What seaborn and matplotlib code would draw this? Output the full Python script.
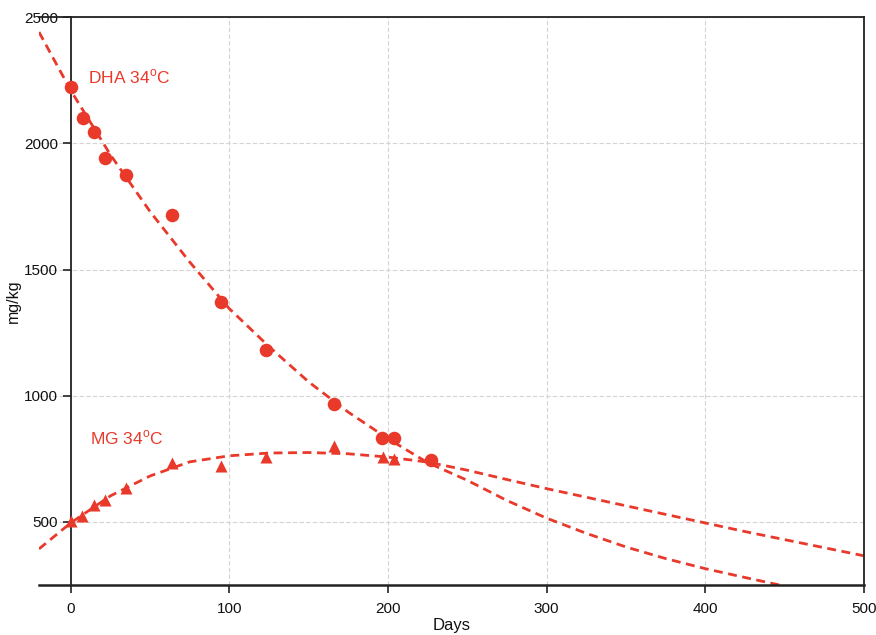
import matplotlib
matplotlib.use("Agg")
import matplotlib.pyplot as plt
import seaborn as sns
import pandas as pd

# --- measured points ---
dha_days = [0, 7.6, 14.5, 21.5, 35, 64, 95, 123, 166, 196, 204, 227]
dha_vals = [2225, 2100, 2045, 1940, 1875, 1715, 1370, 1180, 967, 832, 832, 745]

mg_days = [0, 7, 14.5, 21.5, 35, 64, 95, 123, 166, 197, 204]
mg_vals = [505, 522, 567, 587, 635, 734, 722, 758, 801, 758, 750]

# --- fitted curves ---
dha_fit_days = [-20, 0, 25, 50, 75, 100, 125, 150, 175, 200, 225, 250, 275,
                300, 325, 350, 375, 400, 425, 447]
dha_fit_vals = [2441, 2210, 1955, 1730, 1530, 1345, 1195, 1055, 935, 830, 735,
                665, 585, 515, 455, 401, 355, 315, 280, 250]

mg_fit_days = [-20, 0, 25, 50, 75, 100, 125, 150, 175, 200, 225, 250, 275,
               300, 325, 350, 375, 400, 425, 450, 475, 500]
mg_fit_vals = [393, 496, 603, 682, 738, 762, 773, 775, 770, 757, 737, 705, 668,
               632, 598, 564, 530, 496, 462, 430, 398, 366]

RED = "#e8392a"

dha = pd.DataFrame({"Days": dha_days, "mg/kg": dha_vals})
mg = pd.DataFrame({"Days": mg_days, "mg/kg": mg_vals})
dha_fit = pd.DataFrame({"Days": dha_fit_days, "mg/kg": dha_fit_vals})
mg_fit = pd.DataFrame({"Days": mg_fit_days, "mg/kg": mg_fit_vals})

sns.set_theme(style="white")
plt.rcParams["font.family"] = ["Liberation Sans", "DejaVu Sans"]

fig = plt.figure(figsize=(8.76, 6.35), dpi=100)
ax = fig.add_axes([0.0445, 0.0787, 0.9415, 0.8943])

ax.grid(True, color="#d4d4d4", linestyle=(0, (4, 2)), linewidth=0.8)
ax.set_axisbelow(True)

for fit in (dha_fit, mg_fit):
    sns.lineplot(data=fit, x="Days", y="mg/kg", ax=ax, color=RED,
                 linewidth=2.0, linestyle=(0, (3.2, 2)), sort=False)

sns.scatterplot(data=dha, x="Days", y="mg/kg", ax=ax, color=RED, marker="o",
                s=95, edgecolor=RED, linewidth=0, zorder=3)
sns.scatterplot(data=mg, x="Days", y="mg/kg", ax=ax, color=RED, marker="^",
                s=75, edgecolor=RED, linewidth=0, zorder=3)

ax.text(11, 2262, "DHA 34$^{\\mathregular{o}}$C", color=RED, fontsize=12.5,
        va="center", ha="left")
ax.text(12, 833, "MG 34$^{\\mathregular{o}}$C", color=RED, fontsize=12.5,
        va="center", ha="left")

ax.set_xlim(-20, 500)
ax.set_ylim(250, 2500)
ax.set_xticks([0, 100, 200, 300, 400, 500])
ax.set_yticks([500, 1000, 1500, 2000, 2500])

ax.spines["left"].set_position(("data", 0))
for side in ("left", "right", "top", "bottom"):
    ax.spines[side].set_color("#222222")
    ax.spines[side].set_linewidth(1.3)
ax.spines["bottom"].set_linewidth(1.8)

ax.tick_params(axis="both", which="both", direction="out", length=6,
               width=1.2, color="#222222", labelsize=11, labelcolor="#111111",
               left=True, bottom=True)
ax.tick_params(axis="x", pad=6)
ax.tick_params(axis="y", pad=3)

ax.set_xlabel("Days", fontsize=12, labelpad=2, color="#111111")
ax.set_ylabel("mg/kg", fontsize=11.5, color="#111111")
ax.yaxis.set_label_coords(-0.022, 0.5)

fig.savefig("out.png", dpi=100)
